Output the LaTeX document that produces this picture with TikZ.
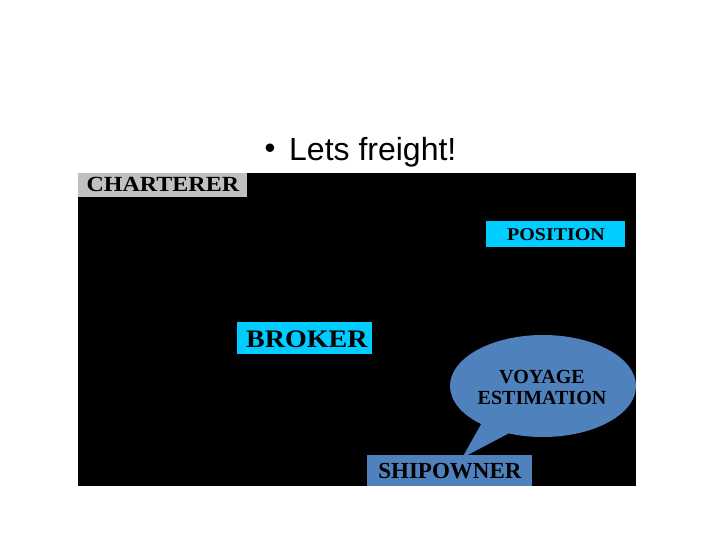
\documentclass[tikz,border=0pt]{standalone}
\usepackage{fontspec}
\setmainfont{Liberation Serif}
\newfontfamily\slidefont{Liberation Sans}
\usetikzlibrary{shapes.callouts}
\definecolor{boxgray}{RGB}{192,192,192}
\definecolor{boxcyan}{RGB}{0,204,255}
\definecolor{boxblue}{RGB}{79,129,189}
\newcommand{\lbl}[1]{\textbf{#1}}

\begin{document}
\begin{tikzpicture}[x=1pt, y=-1pt,
  tag/.style={inner sep=0pt, text=black, align=center}]
  \useasboundingbox (0,0) rectangle (720,540);
  \fill[white] (0,0) rectangle (720,540);
  % slide title
  \node[font=\slidefont\fontsize{31}{34}\selectfont, inner sep=0pt] (dot) at (270,151) {\textbullet};
  \node[font=\slidefont\fontsize{32}{36}\selectfont, anchor=base west, inner sep=0pt] (title) at (289,161) {Lets freight!};
  % picture area
  \fill[black] (78,173) rectangle (636,486);
  \fill[boxgray] (78,173) rectangle (247,197);
  \node[tag, font=\fontsize{24}{27}\selectfont, yscale=0.9] (charterer) at (163,184) {\lbl{CHARTERER}};
  \fill[boxcyan] (486,221) rectangle (625,247);
  \node[tag, font=\fontsize{20}{23}\selectfont, yscale=0.9] (position) at (556,235) {\lbl{POSITION}};
  \fill[boxcyan] (237,322) rectangle (372,354);
  \node[tag, font=\fontsize{28}{32}\selectfont, yscale=0.9] (broker) at (307,339) {\lbl{BROKER}};
  \fill[boxblue] (367,455) rectangle (532,486);
  \node[tag, font=\fontsize{23}{26}\selectfont] (shipowner) at (450,471) {\lbl{SHIPOWNER}};
  \node[ellipse callout, fill=boxblue, minimum width=186pt, minimum height=102pt,
    callout absolute pointer={(462,458)}, callout pointer arc=20, inner sep=0pt] (bubble) at (543,386) {};
  \node[tag, font=\fontsize{20}{21}\selectfont] (estimation) at (542,387) {\lbl{VOYAGE}\\\lbl{ESTIMATION}};
\end{tikzpicture}
\end{document}
